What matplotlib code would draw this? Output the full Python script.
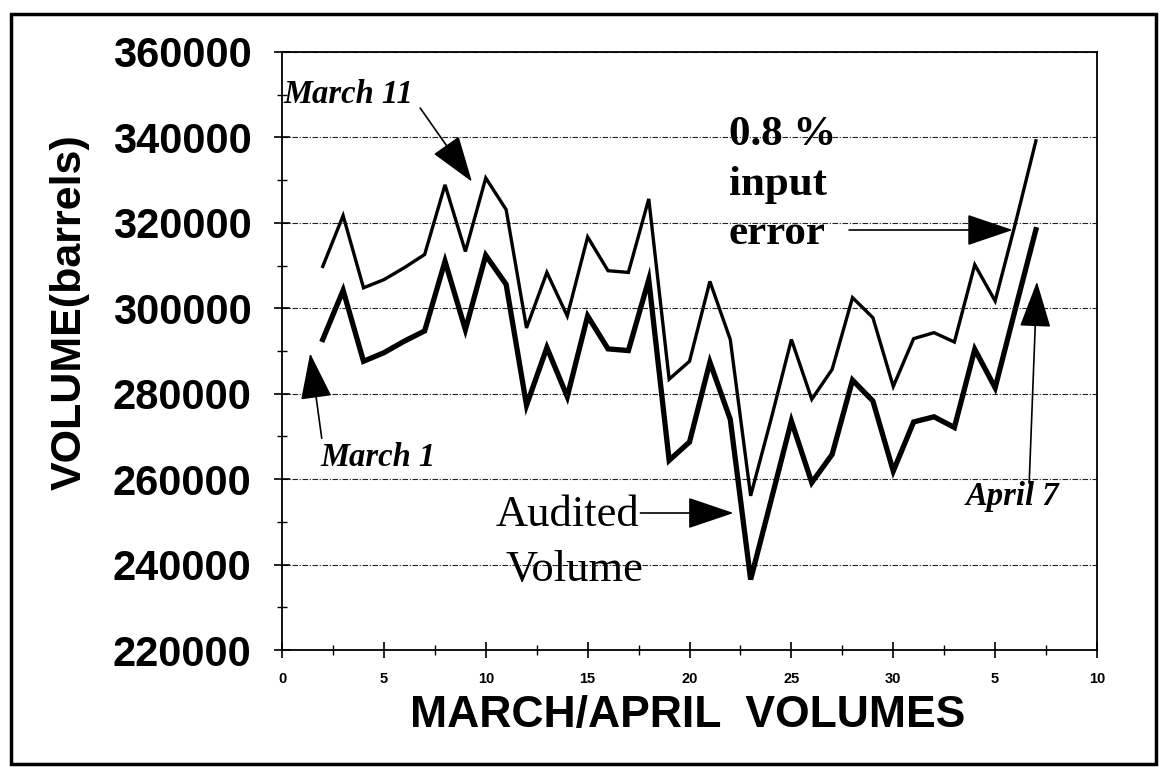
import matplotlib
matplotlib.use('Agg')
import matplotlib.pyplot as plt
from matplotlib.ticker import MultipleLocator, FixedLocator, FixedFormatter
from matplotlib.patches import Rectangle

# ---------------- data ----------------
days = list(range(2, 38))
input_error_volume = [309800, 321700, 304800, 306700, 309500, 312600, 328900, 313300,
                      330500, 323100, 295400, 308400, 298200, 316700, 308800, 308400,
                      325600, 283400, 287600, 306300, 292700, 256100, 274000, 292700,
                      278700, 285700, 302500, 297800, 281700, 292900, 294300, 292100,
                      310200, 301700, 320000, 339200]
audited_volume = [292700, 304200, 287600, 289600, 292300, 294700, 311000, 295000,
                  312400, 305600, 277300, 290800, 279300, 298200, 290500, 290100,
                  306700, 264400, 268700, 287400, 274000, 236500, 255000, 273600,
                  259200, 265800, 283200, 278300, 261900, 273400, 274600, 272100,
                  290400, 281400, 300000, 318400]
x_tick_positions = [0, 5, 10, 15, 20, 25, 30, 35, 40]
x_tick_labels = ['0', '5', '10', '15', '20', '25', '30', '5', '10']
y_ticks = [220000, 240000, 260000, 280000, 300000, 320000, 340000, 360000]
y_tick_labels = ['220000', '240000', '260000', '280000', '300000', '320000', '340000', '360000']

# ---------------- figure ----------------
fig = plt.figure(figsize=(11.61, 7.68), dpi=100)
ax = fig.add_axes([0.2429, 0.1536, 0.7020, 0.7787])

ax.plot(days, input_error_volume, color='black', lw=2.4, solid_joinstyle='miter')
ax.plot(days, audited_volume, color='black', lw=3.8, solid_joinstyle='miter')

ax.set_xlim(0, 40)
ax.set_ylim(220000, 360000)

ax.xaxis.set_major_locator(FixedLocator(x_tick_positions))
ax.xaxis.set_major_formatter(FixedFormatter(x_tick_labels))
ax.xaxis.set_minor_locator(MultipleLocator(2.5))
ax.yaxis.set_major_locator(FixedLocator(y_ticks))
ax.yaxis.set_major_formatter(FixedFormatter(y_tick_labels))
ax.yaxis.set_minor_locator(MultipleLocator(10000))

ax.tick_params(axis='y', which='major', direction='inout', length=11, width=1.2, pad=16.5,
               labelsize=30)
ax.tick_params(axis='y', which='minor', direction='inout', length=7, width=1.0)
ax.tick_params(axis='x', which='major', direction='inout', length=11, width=1.2, pad=10,
               labelsize=10.5)
ax.tick_params(axis='x', which='minor', direction='inout', length=7, width=1.0)
for lab in ax.get_yticklabels():
    lab.set_fontfamily('Liberation Sans')
    lab.set_fontweight('bold')
for lab in ax.get_xticklabels():
    lab.set_fontfamily('Liberation Sans')
    lab.set_fontweight('bold')

for sp in ax.spines.values():
    sp.set_linewidth(1.3)

ax.yaxis.grid(True, which='major', color='#222222', lw=0.8, linestyle=(0, (5, 1.5, 1, 1.5)))
ax.set_axisbelow(True)

# axis titles
fig.text(70 / 1161, 1 - 312 / 768, 'VOLUME(barrels)', rotation=90, ha='center', va='center',
         fontsize=31, fontweight='bold', family='Liberation Sans')
fig.text(688 / 1161, 1 - 715 / 768, 'MARCH/APRIL  VOLUMES', ha='center', va='center',
         fontsize=32, fontweight='bold', family='Liberation Sans')

# annotations
serif = 'Liberation Serif'
ax.text(0.05, 348130, 'March 11', ha='left', va='baseline', fontsize=23.5,
        fontweight='bold', fontstyle='italic', family=serif)
ax.text(1.87, 263150, 'March 1', ha='left', va='baseline', fontsize=23.5,
        fontweight='bold', fontstyle='italic', family=serif)
ax.text(33.56, 253950, 'April 7', ha='left', va='baseline', fontsize=23.5,
        fontweight='bold', fontstyle='italic', family=serif)
ax.text(21.92, 338230, '0.8 %', ha='left', va='baseline', fontsize=31,
        fontweight='bold', family=serif)
ax.text(21.92, 326520, 'input', ha='left', va='baseline', fontsize=31,
        fontweight='bold', family=serif)
ax.text(21.92, 315050, 'error', ha='left', va='baseline', fontsize=31,
        fontweight='bold', family=serif)
ax.text(10.47, 249040, 'Audited', ha='left', va='baseline', fontsize=32, family=serif)
ax.text(10.96, 236160, 'Volume', ha='left', va='baseline', fontsize=32, family=serif)

arrow_kw = dict(arrowstyle='-|>,head_length=2.95,head_width=1.0', mutation_scale=10,
                lw=1.2, color='black', shrinkA=0, shrinkB=0)
ax.annotate('', xy=(9.32, 329640), xytext=(6.78, 346890), arrowprops=arrow_kw)
ax.annotate('', xy=(1.38, 289460), xytext=(1.95, 269560), arrowprops=arrow_kw)
ax.annotate('', xy=(35.86, 318330), xytext=(27.83, 318330), arrowprops=arrow_kw)
ax.annotate('', xy=(22.16, 252080), xytext=(17.59, 252080), arrowprops=arrow_kw)
ax.annotate('', xy=(37.05, 306230), xytext=(36.67, 259030), arrowprops=arrow_kw)

# outer frame
fig.patches.append(Rectangle((11 / 1161, 4 / 768), (1156 - 11) / 1161, (754 - 4) / 768,
                             transform=fig.transFigure, fill=False, lw=2.5, ec='black'))

fig.savefig('out.png', dpi=100)
